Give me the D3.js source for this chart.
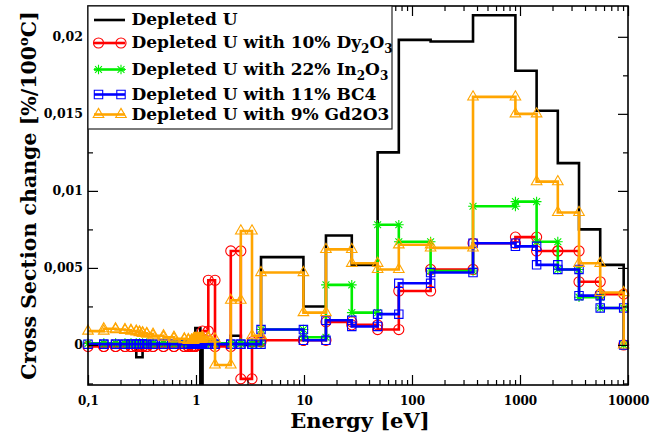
<!DOCTYPE html>
<html>
<head>
<meta charset="utf-8">
<script src="https://cdn.jsdelivr.net/npm/d3@7"></script>
<style>
  body { margin: 0; background: #fff; }
  svg { display: block; }
  text { font-family: "DejaVu Serif", serif; font-weight: bold; fill: #000; }
</style>
</head>
<body>
<svg id="chart" width="663" height="432"></svg>
<script>
// Energy group boundaries [eV] (WIMS 69-group structure, 0.1 eV - 9.118 keV)
const groupEdges = [0.1, 0.14, 0.18, 0.22, 0.25, 0.28, 0.3, 0.32, 0.35, 0.4, 0.5, 0.625, 0.78,
  0.85, 0.91, 0.95, 0.972, 0.986, 0.996, 1.02, 1.035, 1.045, 1.071, 1.097, 1.123, 1.15, 1.3,
  1.5, 2.1, 2.6, 3.3, 4.0, 9.877, 15.968, 27.7, 48.052, 75.5014, 148.728, 367.262, 906.898,
  1425.1, 2239.45, 3519.1, 5530, 9118];

// Cross section change per group [%/100 °C], one value per group (lowest energy first)
const depletedU = [0, 0, 0, 0, 0, -0.0008, -0.0008, 0, 0, 0, 0, 0, 0,
  0, 0, 0, 0, 0.0011, 0.0011, 0.0011, 0.0011, 0.0011, 0.0011, -0.008, -0.008, 0, 0,
  0, 0.0006, 0, 0, 0.0057, 0.0025, 0.0071, 0.0052, 0.0125, 0.0198, 0.0197, 0.0214, 0.0178,
  0.0152, 0.0118, 0.0075, 0.0052];
const withDy2O3 = [-0.0001, -0.0001, -0.0001, -0.0001, -0.0001, -0.0001, -0.0001, -0.0001, -0.0001, -0.0001, -0.0001, -0.0001, -0.0001,
  -0.0001, -0.0001, -0.0001, -0.0001, 0.0001, 0.0001, 0.0001, 0.0001, 0.0001, 0.0001, 0.0001, 0.0001, 0.0009, 0.0042,
  -0.0001, 0.0061, -0.0022, 0.0002, 0.0003, 0.0003, 0.0015, 0.0013, 0.0010, 0.0035, 0.0049, 0.0066, 0.0070,
  0.0061, 0.0061, 0.0041, 0.0033];
const withIn2O3 = [0.0001, 0.0001, 0.0001, 0.0001, 0.0001, 0.0001, 0.0001, 0.0001, 0.0001, 0.0001, 0.0001, 0.0001, 0.0001,
  0.0001, 0.0001, 0.0001, 0.0001, 0.0001, 0.0001, 0.0001, 0.0001, 0.0001, 0.0001, 0.0001, 0.0001, 0.0001, 0.0001,
  0.0001, 0.0001, 0.0001, 0.0001, 0.0010, 0.0005, 0.0039, 0.0021, 0.0078, 0.0067, 0.0048, 0.0090, 0.0093,
  0.0067, 0.0049, 0.0031, 0.0024];
const withBC4 = [0.00005, 0.00005, 0.00005, 0.00005, 0.00005, 0.00005, 0.00005, 0.00005, 0.00005, 0.00005, 0.00005, 0.00005, 0.00005,
  0.00005, 0.00005, 0.00005, 0.00005, 0.00005, 0.00005, 0.00005, 0.00005, 0.00005, 0.00005, 0.00005, 0.00005, 0.00005, 0.00005,
  0.00005, 0.00005, 0.00005, 0.00005, 0.0010, 0.0003, 0.0016, 0.0012, 0.0020, 0.0040, 0.0047, 0.0066, 0.0064,
  0.0052, 0.0049, 0.0032, 0.0024];
const withGd2O3 = [0.0009, 0.00105, 0.0010, 0.00095, 0.0009, 0.00085, 0.0008, 0.00075, 0.0007, 0.0006, 0.0005, 0.0004, 0.00035,
  0.0003, 0.0003, 0.0004, 0.0004, 0.0004, 0.0004, 0.0004, 0.0004, 0.0004, 0.0004, 0.0004, 0.0004, 0.0005, 0.0004,
  -0.0013, 0.0029, 0.0074, 0.0006, 0.0047, 0.0021, 0.0062, 0.0053, 0.0049, 0.0065, 0.0063, 0.0161, 0.0150,
  0.0106, 0.0086, 0.0053, 0.0034];

const legendLabels = ["Depleted U", "Depleted U with 10% Dy_2O_3", "Depleted U with 22% In_2O_3",
  "Depleted U with 11% BC4", "Depleted U with 9% Gd2O3"];
const seriesColors = ["#000000", "#ff0000", "#00ee00", "#0000ff", "#ffa500"];

const xTickValues = [0.1, 1, 10, 100, 1000, 10000];
const xTickLabels = ["0,1", "1", "10", "100", "1000", "10000"];
const yTickValues = [0, 0.005, 0.01, 0.015, 0.02];
const yTickLabels = ["0", "0,005", "0,01", "0,015", "0,02"];

const plot = { left: 88, right: 628, top: 6, bottom: 385 };

const svg = d3.select("#chart");
const x = d3.scaleLog().domain([0.1, 10000]).range([plot.left, plot.right]);
const y = d3.scaleLinear().domain([-0.0026, 0.022]).range([plot.bottom, plot.top]);

// Step-shaped points: each group contributes its lower and upper edge at the same value,
// and the curve closes back to zero at the last edge.
function stepPoints(values) {
  const pts = [];
  values.forEach((v, i) => {
    pts.push([groupEdges[i], v]);
    pts.push([groupEdges[i + 1], v]);
  });
  pts.push([groupEdges[groupEdges.length - 1], 0]);
  return pts;
}

// Asterisk marker built from a plus and a cross
const symbolStarLines = {
  draw(ctx, size) {
    const r = Math.sqrt(size) / 2, q = r * 0.7071;
    ctx.moveTo(-r, 0); ctx.lineTo(r, 0);
    ctx.moveTo(0, -r); ctx.lineTo(0, r);
    ctx.moveTo(-q, -q); ctx.lineTo(q, q);
    ctx.moveTo(-q, q); ctx.lineTo(q, -q);
  }
};

const series = [
  { values: depletedU, color: seriesColors[0], symbol: null, size: 0 },
  { values: withDy2O3, color: seriesColors[1], symbol: d3.symbolCircle, size: 80 },
  { values: withIn2O3, color: seriesColors[2], symbol: symbolStarLines, size: 95 },
  { values: withBC4, color: seriesColors[3], symbol: d3.symbolSquare2, size: 90 },
  { values: withGd2O3, color: seriesColors[4], symbol: d3.symbolTriangle2, size: 80 }
];

svg.append("defs").append("clipPath").attr("id", "plotClip")
  .append("rect")
  .attr("x", plot.left).attr("y", plot.top)
  .attr("width", plot.right - plot.left).attr("height", plot.bottom - plot.top);

const line = d3.line().x(d => x(d[0])).y(d => y(d[1]));

const seriesG = svg.append("g");
series.forEach(s => {
  const pts = stepPoints(s.values);
  const g = seriesG.append("g");
  g.append("path")
    .attr("d", line(pts))
    .attr("clip-path", "url(#plotClip)")
    .attr("fill", "none")
    .attr("stroke", s.color)
    .attr("stroke-width", 2.6)
    .attr("stroke-linejoin", "miter");
  if (s.symbol) {
    const sym = d3.symbol().type(s.symbol).size(s.size);
    g.selectAll("path.mk").data(pts).join("path")
      .attr("class", "mk")
      .attr("transform", d => `translate(${x(d[0])},${y(d[1])})`)
      .attr("d", sym())
      .attr("fill", "none")
      .attr("stroke", s.color)
      .attr("stroke-width", 1.1);
  }
});

// Axes with inward ticks on all four sides
const xMinor = [];
[0.1, 1, 10, 100, 1000].forEach(d => { for (let k = 2; k <= 9; k++) xMinor.push(d * k); });
const yMinor = [-0.0025, 0.0025, 0.0075, 0.0125, 0.0175];

function styleAxis(g) {
  g.select(".domain").remove();
  g.selectAll(".tick line").attr("stroke", "#000").attr("stroke-width", 1.2);
}

svg.append("g").attr("transform", `translate(0,${plot.bottom})`)
  .call(d3.axisBottom(x).tickValues(xTickValues).tickSize(-10).tickPadding(11)
    .tickFormat((d, i) => xTickLabels[i]))
  .call(styleAxis)
  .call(g => g.selectAll("text").attr("font-size", 12).attr("font-family", "DejaVu Serif").attr("font-weight", "bold"));
svg.append("g").attr("transform", `translate(0,${plot.bottom})`)
  .call(d3.axisBottom(x).tickValues(xMinor).tickSize(-5).tickFormat(""))
  .call(styleAxis);
svg.append("g").attr("transform", `translate(0,${plot.top})`)
  .call(d3.axisTop(x).tickValues(xTickValues).tickSize(-10).tickFormat(""))
  .call(styleAxis);
svg.append("g").attr("transform", `translate(0,${plot.top})`)
  .call(d3.axisTop(x).tickValues(xMinor).tickSize(-5).tickFormat(""))
  .call(styleAxis);

svg.append("g").attr("transform", `translate(${plot.left},0)`)
  .call(d3.axisLeft(y).tickValues(yTickValues).tickSize(-10).tickPadding(5)
    .tickFormat((d, i) => yTickLabels[i]))
  .call(styleAxis)
  .call(g => g.selectAll("text").attr("font-size", 12.5).attr("font-family", "DejaVu Serif").attr("font-weight", "bold"));
svg.append("g").attr("transform", `translate(${plot.left},0)`)
  .call(d3.axisLeft(y).tickValues(yMinor).tickSize(-5).tickFormat(""))
  .call(styleAxis);
svg.append("g").attr("transform", `translate(${plot.right},0)`)
  .call(d3.axisRight(y).tickValues(yTickValues).tickSize(-10).tickFormat(""))
  .call(styleAxis);
svg.append("g").attr("transform", `translate(${plot.right},0)`)
  .call(d3.axisRight(y).tickValues(yMinor).tickSize(-5).tickFormat(""))
  .call(styleAxis);

// Frame
svg.append("rect")
  .attr("x", plot.left).attr("y", plot.top)
  .attr("width", plot.right - plot.left).attr("height", plot.bottom - plot.top)
  .attr("fill", "none").attr("stroke", "#000").attr("stroke-width", 1.6);

// Axis titles
svg.append("text")
  .attr("x", (plot.left + plot.right) / 2 + 2).attr("y", 427.5)
  .attr("text-anchor", "middle").attr("font-size", 21)
  .text("Energy [eV]");

const yTitle = svg.append("text")
  .attr("transform", `translate(36,${(plot.top + plot.bottom) / 2})rotate(-90)`)
  .attr("text-anchor", "middle").attr("font-size", 20.5);
yTitle.append("tspan").text("Cross Section change [%/100");
yTitle.append("tspan").attr("font-size", 13).attr("dy", -8).text("o");
yTitle.append("tspan").attr("dy", 8).text("C]");

// Legend
const legend = svg.append("g");
legend.append("rect")
  .attr("x", plot.left).attr("y", plot.top)
  .attr("width", 304).attr("height", 123)
  .attr("fill", "#fff").attr("stroke", "#222").attr("stroke-width", 1.2);

const legendRowY = [20, 43, 69.5, 94.5, 114.5];
series.forEach((s, i) => {
  const cy = legendRowY[i];
  const row = legend.append("g");
  row.append("line")
    .attr("x1", 94).attr("x2", 125).attr("y1", cy).attr("y2", cy)
    .attr("stroke", s.color).attr("stroke-width", 2.6);
  if (s.symbol) {
    const sym = d3.symbol().type(s.symbol).size(s.size);
    [98.5, 121].forEach(mx => {
      row.append("path")
        .attr("transform", `translate(${mx},${cy})`)
        .attr("d", sym())
        .attr("fill", "none").attr("stroke", s.color).attr("stroke-width", 1.1);
    });
  }
  // "_n" marks a subscript digit
  const t = row.append("text").attr("x", 131.5).attr("y", cy + 5.3).attr("font-size", 17);
  let shift = 0;
  legendLabels[i].split(/(_\d)/).filter(p => p.length).forEach(part => {
    if (part.startsWith("_")) {
      t.append("tspan").attr("font-size", 12).attr("dy", 5 - shift).text(part.slice(1));
      shift = 5;
    } else {
      t.append("tspan").attr("dy", -shift).text(part);
      shift = 0;
    }
  });
});
</script>
</body>
</html>
